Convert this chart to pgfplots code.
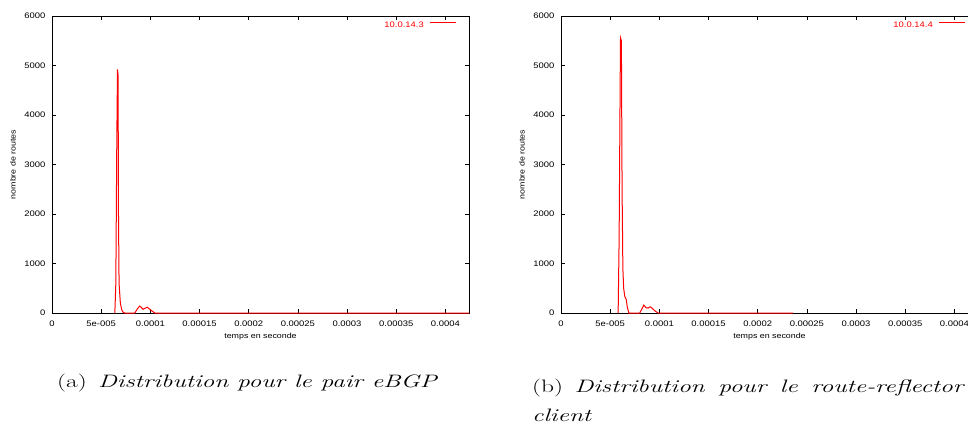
\documentclass[border=0pt]{standalone}
\usepackage{fontspec}
\usepackage{graphicx}
\usepackage{pgfplots}
\pgfplotsset{compat=1.18}
\newfontfamily\arialw{Liberation Sans}[FakeStretch=1.18]

% distribution des temps, paire eBGP
\pgfplotstableread{
t n
6.39e-5 0
6.49e-5 600
6.59e-5 3500
6.66e-5 4920
6.72e-5 4800
6.76e-5 2000
6.82e-5 600
6.95e-5 200
7.10e-5 60
7.25e-5 10
7.40e-5 0
8.42e-5 0
8.70e-5 90
8.92e-5 140
9.10e-5 110
9.26e-5 75
9.50e-5 100
9.70e-5 115
1.004e-4 60
1.045e-4 0
4.24e-4 0
}\dataA

% distribution des temps, route-reflector client
\pgfplotstableread{
t n
5.81e-5 0
5.91e-5 1500
6.01e-5 4500
6.05e-5 5560
6.14e-5 5500
6.21e-5 2500
6.29e-5 900
6.37e-5 500
6.49e-5 330
6.64e-5 270
6.74e-5 120
6.90e-5 0
8.01e-5 0
8.42e-5 160
8.65e-5 105
8.85e-5 100
9.05e-5 125
9.20e-5 110
9.40e-5 70
9.60e-5 35
9.87e-5 0
2.36e-4 0
}\dataB

\pgfplotsset{
  gp/.style={
    scale only axis,
    width=417pt, height=297pt,
    xmin=0, xmax=0.000424,
    ymin=0, ymax=6000,
    xtick={0,5e-5,1e-4,1.5e-4,2e-4,2.5e-4,3e-4,3.5e-4,4e-4},
    xticklabels={0,5e-005,0.0001,0.00015,0.0002,0.00025,0.0003,0.00035,0.0004},
    ytick={0,1000,...,6000},
    scaled x ticks=false,
    /pgf/number format/assume math mode=true,
    /pgf/number format/1000 sep={},
    tick label style={font=\arialw\fontsize{8}{9}\selectfont},
    yticklabel style={xshift=-3pt},
    xticklabel style={yshift=-4pt},
    tick align=inside,
    major tick length=4pt,
    every tick/.style={black, line width=0.6pt},
    axis line style={line width=0.8pt},
    label style={font=\arialw\fontsize{7.5}{8.5}\selectfont},
    xlabel={temps en seconde},
    ylabel={nombre de routes},
    xlabel style={at={(axis description cs:0.5,-0.081)}, anchor=center},
    ylabel style={at={(axis description cs:-0.0935,0.5)}, anchor=center},
    legend plot pos=right,
    legend image code/.code={\draw[#1] (0pt,2.9pt) -- (26pt,2.9pt);},
    legend style={draw=none, fill=none, at={(1,1)}, anchor=north east,
      xshift=-12pt, yshift=-6pt, inner sep=0pt,
      nodes={inner sep=0pt, text=red}, column sep=6pt,
      font=\arialw\fontsize{8}{9}\selectfont},
  },
}

\begin{document}
\begin{tikzpicture}[x=1pt,y=1pt]
\path[use as bounding box] (0,0) rectangle (968,424);

\begin{axis}[gp, at={(52pt,111pt)}, anchor=south west]
\addplot[red, line width=1pt] table[x=t, y=n] {\dataA};
\addlegendentry{10.0.14.3}
\end{axis}

\begin{axis}[gp, at={(561pt,111pt)}, anchor=south west]
\addplot[red, line width=1pt] table[x=t, y=n] {\dataB};
\addlegendentry{10.0.14.4}
\end{axis}

\node[anchor=base west, inner sep=0pt] at (57,37)
  {\scalebox{1.41}[1]{\fontsize{18}{29}\selectfont (a)\hspace{0.45em}\textit{Distribution pour le pair eBGP}}};
\node[anchor=base west, inner sep=0pt] at (532,32)
  {\scalebox{1.41}[1]{\parbox[t]{307pt}{\fontsize{18}{29}\selectfont (b)\hspace{0.45em}\textit{Distribution pour le route-reflector}\linebreak\textit{client}}}};
\end{tikzpicture}
\end{document}
